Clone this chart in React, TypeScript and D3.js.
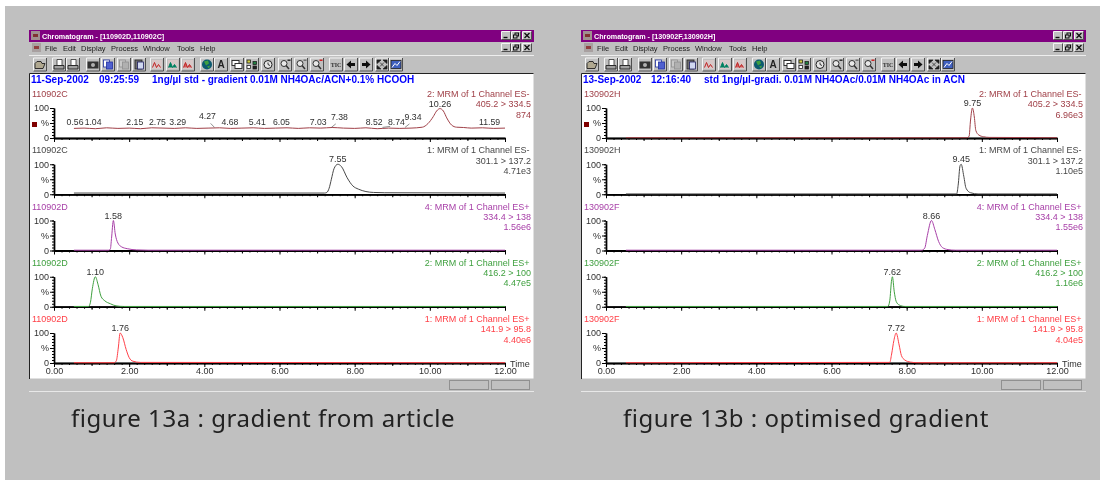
import React, { useEffect, useRef } from "react";
import * as d3 from "d3";

// [time (min), relative intensity %]
type Pt = [number, number];

const a1Trace: Pt[] = [
  [0.53, 32], [0.8, 33], [1.1, 31], [1.4, 34], [1.7, 32], [2.0, 33], [2.3, 31], [2.6, 34], [2.9, 33],
  [3.2, 32], [3.5, 34], [3.8, 32], [4.1, 33], [4.4, 34], [4.7, 32], [5.0, 33], [5.3, 34], [5.6, 32],
  [5.9, 33], [6.2, 34], [6.5, 32], [6.8, 34], [7.1, 33], [7.4, 35], [7.7, 33], [8.0, 32], [8.3, 34],
  [8.6, 31], [8.9, 33], [9.2, 32], [9.5, 33], [9.8, 36], [9.95, 48], [10.09, 71], [10.18, 90], [10.27, 98],
  [10.36, 90], [10.45, 67], [10.58, 43], [10.71, 36], [10.9, 35], [11.1, 33], [11.4, 34], [11.7, 32], [12, 33],
];
const a2Trace: Pt[] = [
  [0.53, 4], [7.2, 4], [7.26, 6], [7.32, 20], [7.38, 50], [7.45, 85], [7.55, 100], [7.65, 92], [7.8, 55],
  [7.95, 28], [8.1, 17], [8.3, 9], [8.5, 6], [8.8, 5], [12, 4],
];
const a3Trace: Pt[] = [
  [0.53, 1], [1.46, 1], [1.5, 5], [1.53, 40], [1.58, 100], [1.63, 55], [1.7, 25], [1.8, 12], [1.95, 6], [2.2, 2], [2.5, 1], [12, 1],
];
const a4Trace: Pt[] = [
  [0.53, 1], [0.92, 1], [0.97, 15], [1.02, 60], [1.1, 100], [1.17, 75], [1.25, 35], [1.35, 20], [1.5, 10], [1.65, 3], [1.85, 1], [12, 1],
];
const a5Trace: Pt[] = [
  [0.53, 1], [1.6, 1], [1.66, 8], [1.71, 50], [1.76, 100], [1.83, 85], [1.92, 45], [2.0, 18], [2.1, 6], [2.3, 2], [12, 1],
];
const b1Trace: Pt[] = [
  [0.53, 1], [9.6, 1], [9.66, 5], [9.7, 60], [9.75, 100], [9.8, 70], [9.84, 25], [9.92, 10], [10.05, 4], [10.2, 2], [12, 1],
];
const b2Trace: Pt[] = [
  [0.53, 1], [9.33, 1], [9.37, 30], [9.42, 95], [9.45, 100], [9.52, 60], [9.58, 20], [9.7, 5], [9.9, 1], [12, 1],
];
const b3Trace: Pt[] = [
  [0.53, 1], [8.4, 1], [8.48, 8], [8.55, 50], [8.66, 100], [8.75, 70], [8.85, 30], [8.95, 10], [9.1, 3], [9.3, 1], [12, 1],
];
const b4Trace: Pt[] = [
  [0.53, 1], [7.5, 1], [7.55, 20], [7.6, 90], [7.62, 100], [7.67, 50], [7.72, 18], [7.8, 6], [7.95, 1], [12, 1],
];
const b5Trace: Pt[] = [
  [0.53, 1], [7.55, 2], [7.6, 30], [7.66, 75], [7.72, 100], [7.8, 60], [7.86, 25], [7.95, 10], [8.1, 3], [8.3, 1], [12, 1],
];

const a1Peaks = ["0.56", "1.04", "2.15", "2.75", "3.29", "4.27", "4.68", "5.41", "6.05", "7.03", "7.38", "8.52", "8.74", "9.34", "11.59"];
// labels the software pushed aside, with a leader line back to the peak
const a1Moved: Record<string, [number, number]> = { "4.27": [-7, -6], "7.38": [8, -5], "8.74": [14, 0], "9.34": [8, -5] };

const xMajor = [0, 2, 4, 6, 8, 10, 12];
const xMid = [1, 3, 5, 7, 9, 11];
const xMinor = d3.range(0, 12.01, 0.2);
const yTicks = [0, 50, 100];
const yMinor = d3.range(0, 101, 10);
const menuItems: [string, number][] = [["File", 16], ["Edit", 34], ["Display", 52], ["Process", 82], ["Window", 114], ["Tools", 148], ["Help", 171]];
const toolButtons = [11, 30, 44, 64, 79, 95, 110, 128, 144, 159, 178, 192, 208, 223, 239, 256, 272, 288, 307, 322, 337, 353, 367];

const BROWN = "#a04048";
const GREY = "#484848";
const PURPLE = "#a840a8";
const GREEN = "#40a040";
const RED = "#ff4048";
const FONT = "'Liberation Sans', Arial, sans-serif";
const panelStep = 56.25;

type PanelDef = {
  sample: string;
  color: string;
  lines: string[];
  trace: Pt[];
  apex: string;
};

const leftPanels: PanelDef[] = [
  { sample: "110902C", color: BROWN, lines: ["2: MRM of 1 Channel ES-", "405.2 > 334.5", "874"], trace: a1Trace, apex: "10.26" },
  { sample: "110902C", color: GREY, lines: ["1: MRM of 1 Channel ES-", "301.1 > 137.2", "4.71e3"], trace: a2Trace, apex: "7.55" },
  { sample: "110902D", color: PURPLE, lines: ["4: MRM of 1 Channel ES+", "334.4 > 138", "1.56e6"], trace: a3Trace, apex: "1.58" },
  { sample: "110902D", color: GREEN, lines: ["2: MRM of 1 Channel ES+", "416.2 > 100", "4.47e5"], trace: a4Trace, apex: "1.10" },
  { sample: "110902D", color: RED, lines: ["1: MRM of 1 Channel ES+", "141.9 > 95.8", "4.40e6"], trace: a5Trace, apex: "1.76" },
];
const rightPanels: PanelDef[] = [
  { sample: "130902H", color: BROWN, lines: ["2: MRM of 1 Channel ES-", "405.2 > 334.5", "6.96e3"], trace: b1Trace, apex: "9.75" },
  { sample: "130902H", color: GREY, lines: ["1: MRM of 1 Channel ES-", "301.1 > 137.2", "1.10e5"], trace: b2Trace, apex: "9.45" },
  { sample: "130902F", color: PURPLE, lines: ["4: MRM of 1 Channel ES+", "334.4 > 138", "1.55e6"], trace: b3Trace, apex: "8.66" },
  { sample: "130902F", color: GREEN, lines: ["2: MRM of 1 Channel ES+", "416.2 > 100", "1.16e6"], trace: b4Trace, apex: "7.62" },
  { sample: "130902F", color: RED, lines: ["1: MRM of 1 Channel ES+", "141.9 > 95.8", "4.04e5"], trace: b5Trace, apex: "7.72" },
];

const x = d3.scaleLinear().domain([0, 12]).range([25, 476]);
const y = d3.scaleLinear().domain([0, 100]).range([108, 78]);
const line = d3.line<Pt>().x((d) => x(d[0])).y((d) => y(d[1])).curve(d3.curveMonotoneX);

function Panel({ def, index, noisy }: { def: PanelDef; index: number; noisy: boolean }) {
  const xRef = useRef<SVGGElement>(null);
  const xMidRef = useRef<SVGGElement>(null);
  const xMinorRef = useRef<SVGGElement>(null);
  const yRef = useRef<SVGGElement>(null);
  const yMinorRef = useRef<SVGGElement>(null);
  const last = index === 4;

  useEffect(() => {
    d3.select(xMinorRef.current!).call(d3.axisBottom(x).tickValues(xMinor).tickSize(2).tickSizeOuter(0).tickFormat(() => ""));
    d3.select(xMidRef.current!).call(d3.axisBottom(x).tickValues(xMid).tickSize(3).tickSizeOuter(0).tickFormat(() => ""));
    d3.select(xRef.current!).call(
      d3.axisBottom(x).tickValues(xMajor).tickSize(4).tickPadding(1).tickSizeOuter(0)
        .tickFormat((d) => (last ? (d as number).toFixed(2) : ""))
    );
    d3.select(yMinorRef.current!).call(d3.axisLeft(y).tickValues(yMinor).tickSize(2).tickSizeOuter(0).tickFormat(() => ""));
    d3.select(yRef.current!).call(
      d3.axisLeft(y).tickValues(yTicks).tickSize(4).tickPadding(1).tickSizeOuter(0)
        .tickFormat((d) => (d === 50 ? "%" : String(d)))
    );
    [xRef, xMidRef, xMinorRef, yRef, yMinorRef].forEach((r) => {
      const g = d3.select(r.current!);
      g.attr("font-size", 9).attr("font-family", FONT);
      g.selectAll("text").attr("fill", "#303030");
      g.select(".domain").attr("stroke-width", 1.4).attr("stroke", "#000");
    });
  }, []);

  const apexPoint = def.trace.reduce((a, b) => (b[1] > a[1] ? b : a));

  return (
    <g transform={`translate(0, ${index * panelStep})`} fontFamily={FONT} fontSize={9}>
      <text x={3} y={67} fill={def.color} fontSize={9}>{def.sample}</text>
      {def.lines.map((t, i) => (
        <text key={t} x={i === 0 ? 500.5 : 502} y={67 + i * 10.3} fill={def.color} textAnchor="end">{t}</text>
      ))}
      <g ref={xMinorRef} transform={`translate(0, ${y(0)})`} />
      <g ref={xMidRef} transform={`translate(0, ${y(0)})`} />
      <g ref={xRef} transform={`translate(0, ${y(0)})`} />
      <g ref={yMinorRef} transform={`translate(${x(0)}, 0)`} />
      <g ref={yRef} transform={`translate(${x(0)}, 0)`} />
      <path d={line(def.trace) ?? ""} fill="none" stroke={def.color} strokeWidth={1} />
      <text x={x(apexPoint[0])} y={y(apexPoint[1]) - 2} textAnchor="middle" fill="#303030">{def.apex}</text>
      {noisy &&
        a1Peaks.map((p) => {
          const t = +p;
          const [dx, dy] = a1Moved[p] ?? [0, 0];
          return (
            <g key={p}>
              <text x={x(t) + dx} y={y(32) - 3 + dy} textAnchor="middle" fill="#303030" fontSize={8.7}>{p}</text>
              {(dx !== 0 || dy !== 0) && (
                <line x1={x(t) + dx * 0.55} y1={y(32) - 2 + dy * 0.5} x2={x(t)} y2={y(32) - 1} stroke="#606060" strokeWidth={0.7} />
              )}
            </g>
          );
        })}
      {last && <text x={481} y={111.5} fill="#303030">Time</text>}
      {index === 0 && <rect x={3} y={92} width={5} height={5} fill="#800000" />}
    </g>
  );
}

function Button({ cx, cy, w = 13, h = 13, children }: { cx: number; cy: number; w?: number; h?: number; children?: React.ReactNode }) {
  const x0 = cx - w / 2;
  const y0 = cy - h / 2;
  return (
    <g>
      <rect x={x0} y={y0} width={w} height={h} fill="#c0c0c0" />
      <path d={`M${x0} ${y0 + h}V${y0}H${x0 + w}`} fill="none" stroke="#f4f4f4" />
      <path d={`M${x0} ${y0 + h}H${x0 + w}V${y0}`} fill="none" stroke="#505050" />
      {children}
    </g>
  );
}

// rough stand-ins for the 16-colour toolbar bitmaps, drawn around (0, 0)
function ToolIcon({ i }: { i: number }) {
  const page = (dx: number, dy: number, fill: string, stroke = "#303030") => (
    <rect x={dx - 3} y={dy - 3.5} width={6} height={7} fill={fill} stroke={stroke} strokeWidth={0.8} />
  );
  const peaks = (c1: string, c2: string) => (
    <g>
      <rect x={-5} y={-4.5} width={10} height={9} fill="#d8c8c8" />
      <path d="M-4.5 3L-2.5 -2L-0.5 3L1.5 0L3.5 3" fill={c2 === "" ? "none" : c2} stroke={c1} strokeWidth={1} />
    </g>
  );
  const glass = (mark: string) => (
    <g fill="none" stroke="#303030" strokeWidth={1}>
      <circle cx={-1} cy={-1} r={3} fill="#e8e8e8" />
      <line x1={1} y1={1} x2={4} y2={4.5} strokeWidth={1.5} />
      <rect x={2.5} y={-5} width={3} height={1.5} fill={mark} stroke="none" />
    </g>
  );
  switch (i) {
    case 0:
      return <path d="M-5 4V-1L-3 -3H1L2 -1H5L3 4Z" fill="#b0a890" stroke="#202020" strokeWidth={0.9} />;
    case 1:
    case 2:
      return (
        <g>
          <path d="M-2 -5H3V1H-2Z" fill="#fff" stroke="#303030" strokeWidth={0.8} />
          <path d="M-5 1H5V4.5H-5Z" fill="#a0a0a0" stroke="#202020" strokeWidth={0.9} />
        </g>
      );
    case 3:
      return (
        <g>
          <rect x={-5.5} y={-3} width={11} height={7} fill="#303030" />
          <circle cx={0} cy={0.5} r={2} fill="#b0b0b0" />
        </g>
      );
    case 4:
      return <g>{page(-1.5, -1, "#fff", "#2030a0")}{page(1.5, 1, "#5060d0", "#2030a0")}</g>;
    case 5:
      return <g>{page(-1.5, -1, "#c8c8c8", "#909090")}{page(1.5, 1, "#b0b0b0", "#909090")}</g>;
    case 6:
      return <g><rect x={-4} y={-4.5} width={7} height={9} fill="#707070" stroke="#202020" strokeWidth={0.8} />{page(1.5, 1, "#d0d8f0", "#202060")}</g>;
    case 7:
      return peaks("#c02020", "");
    case 8:
      return peaks("#008060", "#008060");
    case 9:
      return peaks("#c02020", "#d06060");
    case 10:
      return (
        <g>
          <circle r={5} fill="#0a5a70" />
          <path d="M-3 -3L1 -4L2 -1L-1 1ZM0 2L3 1L2 4Z" fill="#40a040" />
        </g>
      );
    case 11:
      return <text y={3.5} textAnchor="middle" fontSize={10} fontFamily={FONT} fontWeight="bold" fill="#202020">A</text>;
    case 12:
      return (
        <g fill="#fff" stroke="#202020" strokeWidth={0.9}>
          <rect x={-5} y={-4} width={7} height={5} />
          <rect x={-2} y={-1} width={7} height={5} />
        </g>
      );
    case 13:
      return (
        <g stroke="#202020" strokeWidth={0.8}>
          <rect x={-5} y={-4.5} width={3.5} height={3} fill="#d0d040" />
          <rect x={1} y={-3} width={3.5} height={3} fill="#208040" />
          <rect x={-5} y={1} width={3.5} height={3} fill="#fff" />
          <rect x={1} y={1.5} width={3.5} height={3} fill="#202020" />
        </g>
      );
    case 14:
      return (
        <g fill="#e8e8e8" stroke="#202020">
          <circle r={4} />
          <path d="M0 -2V0L2 1" fill="none" strokeWidth={0.9} />
        </g>
      );
    case 15:
      return glass("#303030");
    case 16:
      return glass("#707070");
    case 17:
      return glass("#d02020");
    case 18:
      return <text y={2.5} textAnchor="middle" fontSize={6} fontFamily="'Liberation Serif', serif" fontWeight="bold" fill="#303030">TIC</text>;
    case 19:
      return <path d="M-4.5 0L0 -4V-1.5H4V1.5H0V4Z" fill="#101010" />;
    case 20:
      return <path d="M4.5 0L0 -4V-1.5H-4V1.5H0V4Z" fill="#101010" />;
    case 21:
      return <path d="M-5 -4.5H-1L-5 -1ZM5 -4.5H1L5 -1ZM-5 4.5H-1L-5 1ZM5 4.5H1L5 1ZM-2 -2L2 2M2 -2L-2 2" fill="#202020" stroke="#202020" strokeWidth={0.7} />;
    default:
      return (
        <g>
          <rect x={-5} y={-4} width={10} height={8} fill="#4060c0" stroke="#202020" strokeWidth={0.8} />
          <path d="M-4 3L-1 -1L1 1L4 -3" fill="none" stroke="#fff" strokeWidth={1} />
        </g>
      );
  }
}

function WinControl({ cx, cy, kind }: { cx: number; cy: number; kind: number }) {
  return (
    <Button cx={cx} cy={cy} w={9} h={8}>
      <g transform={`translate(${cx}, ${cy})`} fill="none" stroke="#101010" strokeWidth={1}>
        {kind === 0 && <line x1={-2.5} x2={1.5} y1={2} y2={2} strokeWidth={1.4} />}
        {kind === 1 && (
          <g>
            <rect x={-1} y={-2.5} width={3.5} height={3} />
            <rect x={-2.5} y={-0.5} width={3.5} height={3} fill="#c0c0c0" />
          </g>
        )}
        {kind === 2 && <path d="M-2.5 -2.5L2.5 2.5M2.5 -2.5L-2.5 2.5" strokeWidth={1.3} />}
      </g>
    </Button>
  );
}

function Win({ ox, title, date, time, note, panels, caption }: {
  ox: number; title: string; date: string; time: string; note: string; panels: PanelDef[]; caption: string;
}) {
  const wide = 505;
  return (
    <g transform={`translate(${ox}, 0)`}>
      {/* title bar */}
      <rect x={29} y={30} width={wide} height={12} fill="#800080" />
      <rect x={31} y={31} width={9} height={9} fill="#a09090" />
      <rect x={33} y={34} width={5} height={3} fill="#803030" />
      <text x={42} y={38.5} fill="#fff" fontFamily={FONT} fontSize={7.2} fontWeight="bold">{title}</text>
      {[506, 516, 527].map((c, i) => (
        <g key={c}>
          <WinControl cx={c} cy={35.5} kind={i} />
          <WinControl cx={c} cy={47.5} kind={i} />
        </g>
      ))}
      {/* menu */}
      <rect x={32} y={43} width={9} height={9} fill="#a8a0a0" />
      <rect x={34} y={46} width={5} height={3} fill="#904040" />
      {menuItems.map(([m, dx]) => (
        <text key={m} x={29 + dx} y={50.5} fontFamily={FONT} fontSize={7.5} fill="#202020">{m}</text>
      ))}
      <line x1={29} x2={534} y1={55.5} y2={55.5} stroke="#eee" />
      {/* toolbar */}
      {toolButtons.map((dx, i) => (
        <Button key={dx} cx={29 + dx} cy={64.5}>
          <g transform={`translate(${29 + dx}, 64.5)`}>
            <ToolIcon i={i} />
          </g>
        </Button>
      ))}
      {/* plot area */}
      <rect x={29.5} y={73.5} width={504} height={305} fill="#fff" />
      <path d="M29.5 379V73.5H533.5" fill="none" stroke="#202020" />
      <g transform="translate(29, 30)" fontFamily={FONT}>
        {panels.map((p, i) => (
          <Panel key={i} def={p} index={i} noisy={p.trace === a1Trace} />
        ))}
      </g>
      <text y={83} fill="#0000ff" fontFamily={FONT} fontSize={10} fontWeight="bold">
        <tspan x={31}>{date}</tspan>
        <tspan x={99}>{time}</tspan>
        <tspan x={152}>{note}</tspan>
      </text>
      {/* status bar */}
      <rect x={449.5} y={380.5} width={39} height={9} fill="none" stroke="#909090" />
      <rect x={491.5} y={380.5} width={38} height={9} fill="none" stroke="#909090" />
      <line x1={29} x2={534} y1={391.5} y2={391.5} stroke="#e8e8e8" />
      <text x={71} y={427} fontFamily="'Noto Sans', sans-serif" fontSize={24} letterSpacing={0.55} fill="#202020">{caption}</text>
    </g>
  );
}

export default function App() {
  return (
    <svg width={1100} height={480} style={{ position: "absolute", left: 0, top: 0 }}>
      <defs>
        <filter id="soft" x="0" y="0" width="100%" height="100%">
          <feGaussianBlur stdDeviation={0.35} />
        </filter>
      </defs>
      <rect x={5} y={6} width={1095} height={474} fill="#c0c0c0" />
      <g filter="url(#soft)">
        <Win
          ox={0}
          title="Chromatogram - [110902D,110902C]"
          date="11-Sep-2002"
          time="09:25:59"
          note="1ng/µl std - gradient 0.01M NH4OAc/ACN+0.1% HCOOH"
          panels={leftPanels}
          caption="figure 13a : gradient from article"
        />
        <Win
          ox={552}
          title="Chromatogram - [130902F,130902H]"
          date="13-Sep-2002"
          time="12:16:40"
          note="std 1ng/µl-gradi. 0.01M NH4OAc/0.01M NH4OAc in ACN"
          panels={rightPanels}
          caption="figure 13b : optimised gradient"
        />
      </g>
    </svg>
  );
}
